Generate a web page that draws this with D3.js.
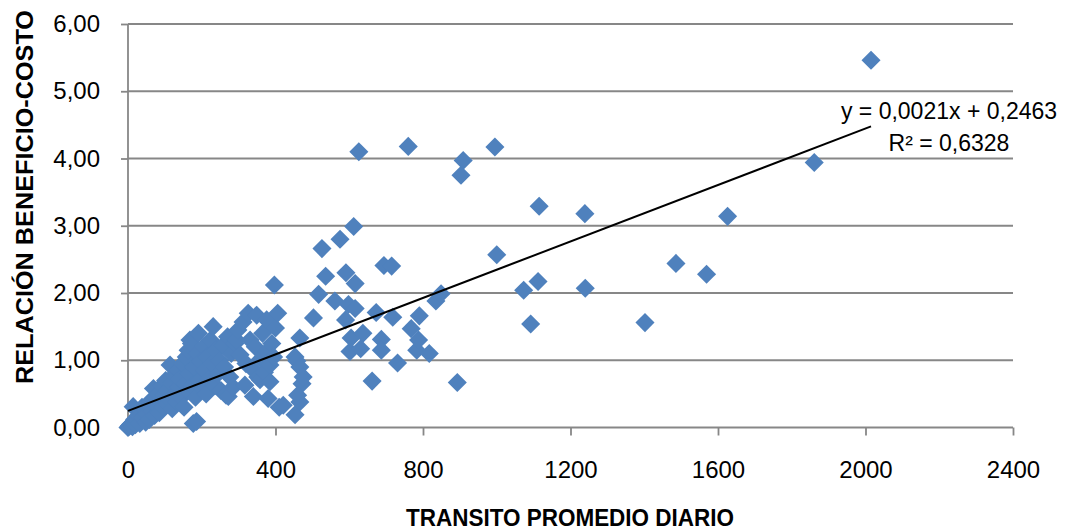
<!DOCTYPE html>
<html>
<head>
<meta charset="utf-8">
<script src="https://cdn.jsdelivr.net/npm/d3@7"></script>
<style>
  html, body { margin: 0; padding: 0; background: #ffffff; }
  svg { display: block; font-family: "Liberation Sans", Arial, sans-serif; }
</style>
</head>
<body>
<svg id="chart" width="1065" height="531"></svg>
<script>
// Tránsito promedio diario (TPD) de cada tramo
const tpd = [
  0, 3, 5, 8, 12, 14, 15, 18, 20,
  25, 28, 32, 35, 38, 40, 45, 48,
  52, 55, 58, 62, 65, 69, 72, 75, 78,
  82, 85, 88, 92, 95, 98, 102, 105, 108,
  112, 114, 118, 120, 125, 128, 132, 136, 138,
  142, 145, 148, 152, 155, 158, 162, 163, 166, 168,
  172, 174, 177, 180, 183, 186, 188, 191, 194, 197,
  202, 205, 208, 212, 215, 220, 224, 228, 231, 236, 238,
  244, 248, 252, 258, 262, 266, 270, 272, 276, 280, 285, 290, 294, 298,
  304, 312, 317, 320, 326, 331, 335, 340, 345, 349, 352, 358, 360,
  365, 370, 376, 376, 380, 385, 385, 390, 395, 397, 400, 406, 410, 421,
  453, 458, 466, 466, 466, 472, 475, 460, 453,
  503, 517, 526, 536, 561, 575, 590, 591, 598, 602, 605, 612, 616, 616, 626,
  631, 637, 662, 673, 687, 687, 694, 715, 718, 731, 760, 768, 783, 788, 790, 817,
  835, 849, 893, 903, 909, 995, 1000, 1073, 1092, 1112, 1115, 1239, 1240,
  1402, 1486, 1569, 1626, 1861, 2015
];

// Relación beneficio-costo (B/C) del mismo tramo
const bc = [
  0.00, 0.02, 0.03, 0.05, 0.01, 0.31, 0.08, 0.12, 0.04,
  0.10, 0.18, 0.06, 0.22, 0.30, 0.15, 0.28, 0.08,
  0.20, 0.35, 0.12, 0.40, 0.25, 0.58, 0.18, 0.45, 0.32,
  0.50, 0.22, 0.38, 0.62, 0.30, 0.48, 0.70, 0.35, 0.55,
  0.42, 0.93, 0.65, 0.28, 0.78, 0.50, 0.38, 0.85, 0.60,
  0.72, 0.45, 0.95, 0.30, 0.65, 1.05, 0.55, 1.15, 0.80, 1.30,
  1.25, 0.62, 0.06, 0.90, 0.45, 0.09, 1.10, 1.40, 0.70, 0.98,
  0.58, 1.20, 0.85, 0.50, 1.05, 0.72, 1.30, 0.95, 1.50, 0.62, 1.15,
  0.80, 1.00, 0.55, 1.22, 0.90, 0.48, 1.35, 0.46, 0.75, 1.10, 0.60, 1.25, 1.30, 1.45,
  1.08, 1.57, 0.63, 0.95, 1.70, 1.30, 0.88, 0.46, 1.20, 1.67, 0.75, 0.71, 1.02,
  1.40, 0.82, 1.60, 1.13, 0.43, 0.93, 0.68, 1.25, 1.05, 2.12, 1.48, 1.70, 0.30, 0.33,
  1.05, 0.99, 1.33, 0.90, 0.38, 0.65, 0.75, 0.48, 0.19,
  1.63, 1.98, 2.66, 2.25, 1.88, 2.80, 1.60, 2.30, 1.83, 1.13, 1.33, 2.99, 2.14, 1.77, 4.10,
  1.17, 1.40, 0.69, 1.71, 1.31, 1.15, 2.41, 2.40, 1.64, 0.96, 4.18, 1.47, 1.15, 1.30, 1.66, 1.10,
  1.88, 1.99, 0.67, 3.75, 3.97, 4.17, 2.57, 2.04, 1.54, 2.17, 3.29, 3.18, 2.07,
  1.56, 2.44, 2.28, 3.14, 3.94, 5.46
];

const xTicks = [0, 400, 800, 1200, 1600, 2000, 2400];
const yTicks = [0, 1, 2, 3, 4, 5, 6];

// Ajuste lineal por mínimos cuadrados
const slope = 0.0021;
const intercept = 0.2463;
const r2 = 0.6328;

const xTitle = "TRANSITO PROMEDIO DIARIO";
const yTitle = "RELACIÓN BENEFICIO-COSTO";

const points = tpd.map((v, i) => ({ x: v, y: bc[i] }));
const comma = v => v.toString().replace(".", ",");
const fmt2 = v => v.toFixed(2).replace(".", ",");

const svg = d3.select("#chart");
const x = d3.scaleLinear().domain([0, 2400]).range([128, 1013]);
const y = d3.scaleLinear().domain([0, 6]).range([427.5, 24]);

const gridColor = "#878787";

// Horizontal gridlines
svg.append("g")
  .selectAll("line")
  .data(yTicks.filter(t => t > 0))
  .join("line")
  .attr("x1", x(0)).attr("x2", x(2400))
  .attr("y1", d => y(d)).attr("y2", d => y(d))
  .attr("stroke", gridColor).attr("stroke-width", 1.8);

// Y axis
const yAxis = svg.append("g")
  .attr("transform", `translate(${x(0)},0)`)
  .call(d3.axisLeft(y).tickValues(yTicks).tickSize(7).tickPadding(21).tickFormat(fmt2));

// X axis
const xAxis = svg.append("g")
  .attr("transform", `translate(0,${y(0)})`)
  .call(d3.axisBottom(x).tickValues(xTicks).tickSize(8).tickPadding(25).tickFormat(d3.format("d")));

[yAxis, xAxis].forEach(g => {
  g.select(".domain").attr("stroke", gridColor).attr("stroke-width", 1.8);
  g.selectAll(".tick line").attr("stroke", gridColor).attr("stroke-width", 1.8);
  g.selectAll(".tick text")
    .attr("fill", "#000")
    .style("font-family", '"Liberation Sans", Arial, sans-serif')
    .style("font-size", "24px");
});
yAxis.select(".domain").attr("d", `M0,${y(6)}V${y(0)}`);
xAxis.select(".domain").attr("d", `M${x(0)},0H${x(2400)}`);

// Scatter markers (diamonds)
const diamond = d3.symbol().type(d3.symbolSquare).size(182);
svg.append("g")
  .selectAll("path")
  .data(points)
  .join("path")
  .attr("d", diamond)
  .attr("transform", d => `translate(${x(d.x)},${y(d.y)}) rotate(45)`)
  .attr("fill", "#4f81bd");

// Trendline over the observed range
const xMax = d3.max(tpd);
svg.append("line")
  .attr("x1", x(0)).attr("y1", y(intercept))
  .attr("x2", x(xMax)).attr("y2", y(slope * xMax + intercept))
  .attr("stroke", "#000").attr("stroke-width", 2);

// Trendline equation and R²
const eq = svg.append("text")
  .attr("x", 949).attr("y", 119)
  .attr("text-anchor", "middle")
  .style("font-size", "23px")
  .attr("fill", "#000");
eq.append("tspan").text(`y = ${comma(slope)}x + ${comma(intercept)}`);
eq.append("tspan").attr("x", 949).attr("dy", 32).text(`R² = ${comma(r2)}`);

// Axis titles
svg.append("text")
  .attr("x", 570).attr("y", 525.5)
  .attr("text-anchor", "middle")
  .attr("textLength", 328).attr("lengthAdjust", "spacingAndGlyphs")
  .style("font-size", "24px").style("font-weight", "bold")
  .attr("fill", "#000")
  .text(xTitle);

svg.append("text")
  .attr("transform", `translate(33,${(10 + 384) / 2}) rotate(-90)`)
  .attr("text-anchor", "middle")
  .attr("textLength", 374).attr("lengthAdjust", "spacingAndGlyphs")
  .style("font-size", "24px").style("font-weight", "bold")
  .attr("fill", "#000")
  .text(yTitle);
</script>
</body>
</html>
